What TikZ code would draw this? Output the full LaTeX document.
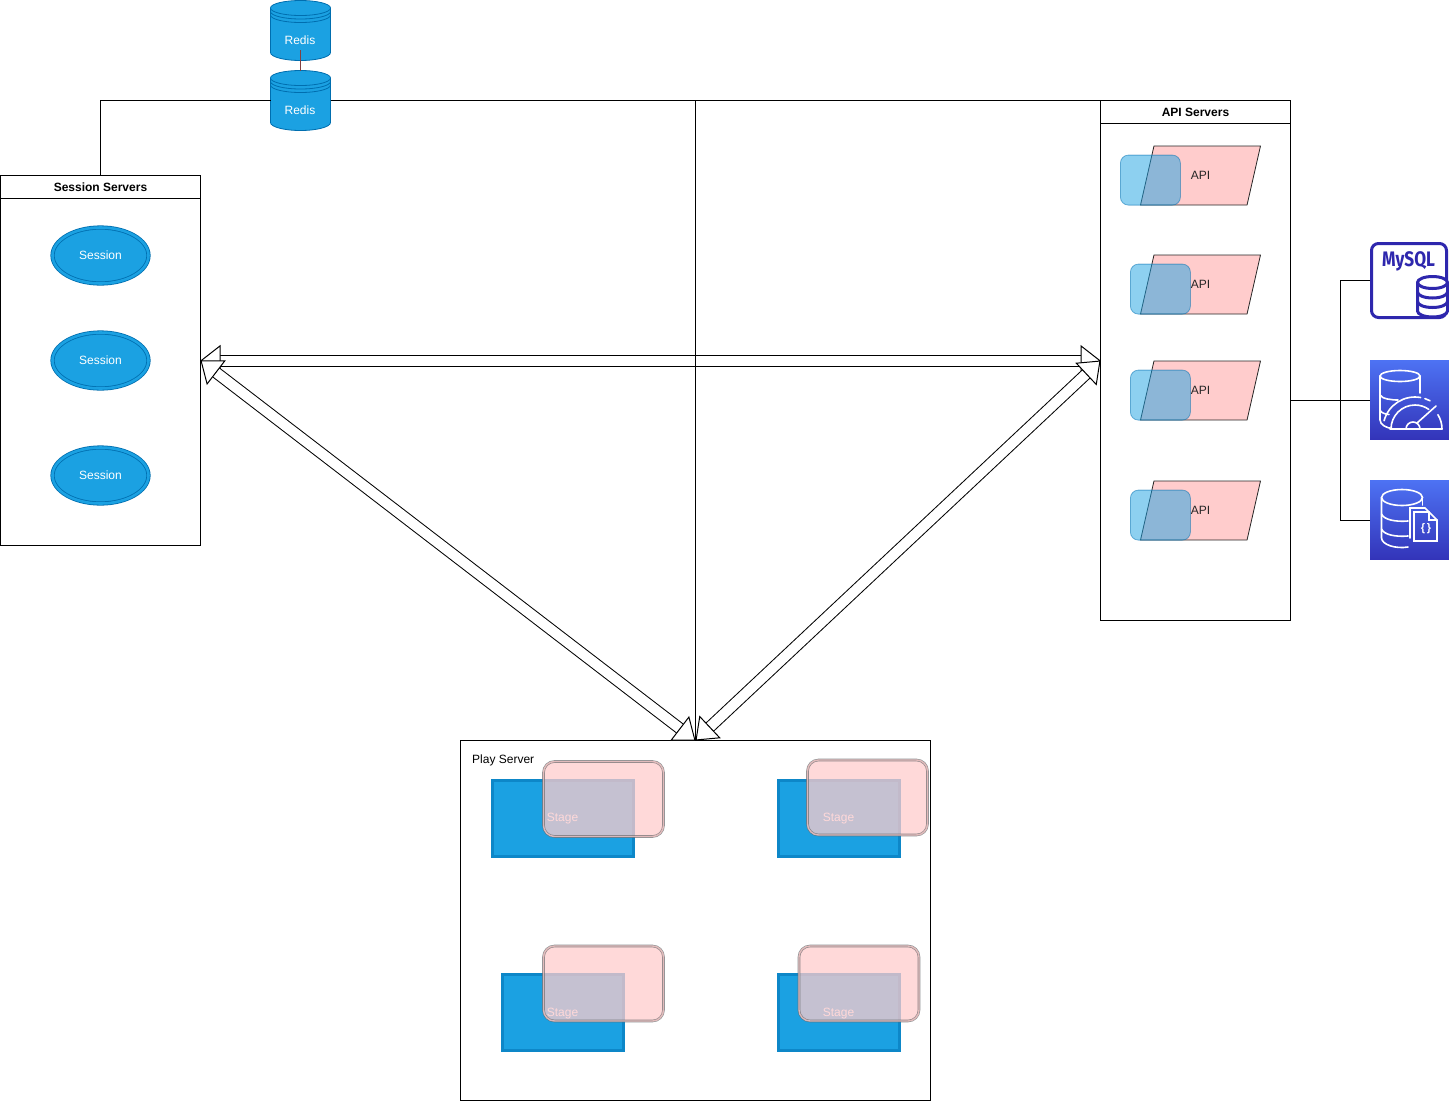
\documentclass[tikz,border=0pt]{standalone}
\usepackage{fontspec}
\setmainfont{Liberation Sans}
\newfontfamily\iconfont{Fira Sans}
\usetikzlibrary{arrows.meta,shapes.geometric,calc}
\definecolor{azure}{HTML}{1BA1E2}
\definecolor{azureline}{HTML}{006EAF}
\definecolor{pinkfill}{HTML}{FFCCCC}
\definecolor{pinkline}{HTML}{36393D}
\definecolor{iconblue}{HTML}{2E27AD}
\definecolor{tiletop}{HTML}{4D72F3}
\definecolor{tilebot}{HTML}{3334B9}
\newcommand{\stagelabel}{\raisebox{0pt}[7pt][0pt]{Stage}}
\tikzset{
  srvbox/.style={draw, line width=.8pt, outer sep=0pt, anchor=north west},
  srvtitle/.style={srvbox, font=\fontsize{12}{14}\selectfont\bfseries, minimum height=23},
  sessionnode/.style={ellipse, draw=azureline, fill=azure, line width=.8pt,
    double=azure, double distance=2.6pt, minimum width=96, minimum height=56,
    text=white, font=\fontsize{12}{14}\selectfont},
  apinode/.style={trapezium, draw=black!85, fill=pinkfill, line width=.8pt,
    trapezium left angle=71.3, trapezium right angle=108.7, trapezium stretches=true,
    inner sep=0pt, outer sep=0pt, minimum width=120, minimum height=59,
    text=black!85, font=\fontsize{12}{14}\selectfont},
  apicard/.style={rectangle, rounded corners=8pt, draw=azureline, fill=azure, opacity=.5,
    line width=.8pt, minimum width=60, minimum height=50, anchor=south west},
  stagenode/.style={rectangle, draw=azure!50!azureline, fill=azure, line width=1pt,
    double=azure!50!azureline, double distance=1pt, minimum height=76,
    text=white, font=\fontsize{12}{14}\selectfont},
  stagecard/.style={rectangle, rounded corners=11pt, draw=pinkline!75, fill=pinkfill, opacity=.75,
    line width=.6pt, double=pinkfill, double distance=1.4pt, minimum width=120, minimum height=75},
  dbbody/.style={fill=azure, draw=azureline, line width=.8pt},
  dbtext/.style={text=white, font=\fontsize{12}{14}\selectfont},
  awstile/.style={rectangle, top color=tiletop, bottom color=tilebot, minimum size=79, inner sep=0pt, outer sep=0pt},
  tileline/.style={draw=white, line width=1.6pt, line cap=round},
  flowarrow/.style={double, double distance=10pt, line width=1pt,
    {Triangle[fill=white, length=20pt, width=31pt, line width=1pt]}-{Triangle[fill=white, length=20pt, width=31pt, line width=1pt]}},
  link/.style={line width=1pt}
}
\begin{document}
\begin{tikzpicture}[x=1pt, y=-1pt]
  \useasboundingbox (0,0) rectangle (1449,1101);

  % server boxes
  \node[srvbox, minimum width=200, minimum height=370] (session) at (.5,175.5) {};
  \node[srvtitle, minimum width=200] (sessionTitle) at (session.north west) {Session Servers};
  \node[srvbox, minimum width=190, minimum height=520] (api) at (1100.5,100.5) {};
  \node[srvtitle, minimum width=190] (apiTitle) at (api.north west) {API Servers};
  \node[srvbox, minimum width=470, minimum height=360] (play) at (460.5,740.5) {};
  \node[anchor=west, inner sep=0pt, font=\fontsize{12}{14}\selectfont] (playTitle) at (472,760.5) {Play Server};

  % redis
  \foreach \nm/\top in {redisA/.5,redisB/70.5} {
    \path[dbbody] (270.5,\top+7.5) -- (270.5,\top+52)
      arc[start angle=180, end angle=360, x radius=30pt, y radius=8pt]
      -- (330.5,\top+7.5)
      arc[start angle=0, end angle=180, x radius=30pt, y radius=7.5pt] -- cycle;
    \draw[azureline, line width=.8pt] (270.5,\top+7.5)
      arc[start angle=180, end angle=360, x radius=30pt, y radius=7.5pt];
    \draw[azureline, line width=.8pt] (270.5,\top+11)
      arc[start angle=180, end angle=360, x radius=30pt, y radius=7.5pt];
    \draw[azureline, line width=.8pt] (270.5,\top+14.5)
      arc[start angle=180, end angle=360, x radius=30pt, y radius=7.5pt];
    \node[minimum width=60, minimum height=60, inner sep=0pt, outer sep=0pt] (\nm) at (300.5,\top+30) {};
    \node[dbtext, inner sep=0pt] (\nm Text) at (300,\top+39.5) {Redis};
  }
  \coordinate (redisLink) at (300.5,50);
  \draw[red!35!black!75, line width=.7pt] (redisLink) -- (redisB.north);

  % session nodes
  \foreach \nm/\py in {sessionA/255,sessionB/360,sessionC/475}
    \node[sessionnode] (\nm) at (100.5,\py+.5) {Session};

  % flow arrows
  \draw[flowarrow] (session.east) -- (api.west);
  \draw[flowarrow] (session.east) -- (play.north);
  \draw[flowarrow] (api.west) -- (play.north);

  % bus
  \draw[link] (session.north) |- (redisB.west);
  \draw[link] (redisB.east) -- (redisB.east -| api.west);
  \draw[link] (redisB.east) -| (play.north);

  % api nodes
  \foreach \nm/\py/\cx in {apiA/146/1120,apiB/255/1130,apiC/361/1130,apiD/481/1130} {
    \node[apinode] (\nm) at (1200.5,\py+29.5) {API};
    \node[apicard] (\nm card) at (\cx,\py+59.5) {};
  }

  % stages
  \node[stagenode, minimum width=141] (stageA) at (562.5,818) {\stagelabel};
  \node[stagecard] (stageAcard) at (603.5,799) {};
  \node[stagenode, minimum width=121] (stageB) at (838.5,818) {\stagelabel};
  \node[stagecard] (stageBcard) at (867.5,797.5) {};
  \node[stagenode, minimum width=121] (stageC) at (562.5,1012.5) {\stagelabel};
  \node[stagecard] (stageCcard) at (603.5,983.5) {};
  \node[stagenode, minimum width=121] (stageD) at (838.5,1012.5) {\stagelabel};
  \node[stagecard] (stageDcard) at (859,983.5) {};

  % mysql icon
  \node[rectangle, rounded corners=7pt, draw=iconblue, line width=3pt, minimum width=75,
    minimum height=74, inner sep=0pt, outer sep=1.5pt] (mysql) at (1409,280.5) {};
  \node[text=iconblue, inner sep=0pt, font=\iconfont\fontsize{21}{24}\selectfont\bfseries] (mysqlText) at (1408.5,261) {\scalebox{.82}[1]{MySQL}};
  \path[fill=white, draw=iconblue, line width=3pt] (1417.5,282.5) -- (1417.5,311)
    arc[start angle=180, end angle=360, x radius=15pt, y radius=6pt] -- (1447.5,282.5)
    arc[start angle=0, end angle=180, x radius=15pt, y radius=6pt] -- cycle;
  \foreach \py in {282.5,292,301.5}
    \draw[iconblue, line width=3pt] (1417.5,\py)
      arc[start angle=180, end angle=360, x radius=15pt, y radius=6pt];

  % performance icon
  \node[awstile] (perfdb) at (1409.5,400) {};
  \draw[tileline] (1400,376) ellipse[x radius=20pt, y radius=5.5pt];
  \draw[tileline] (1380,376) -- (1380,420) .. controls (1380,425) and (1387,428) .. (1392,428.5);
  \draw[tileline] (1380,395) .. controls (1382,399) and (1392,400) .. (1398,400);
  \draw[tileline] (1380,410) .. controls (1381,413) and (1385,414) .. (1389,414.5);
  \draw[tileline] (1420,376) -- (1420,393);
  \draw[tileline] (1390,429) -- (1442,429);
  \draw[tileline] (1415,429) ++(165:32pt) arc[start angle=165, end angle=80, radius=32pt];
  \draw[tileline] (1415,429) ++(72:32pt) arc[start angle=72, end angle=62, radius=32pt];
  \draw[tileline] (1415,429) ++(180:24pt) arc[start angle=180, end angle=55, radius=24pt];
  \draw[tileline] (1415,429) ++(0:27pt) arc[start angle=0, end angle=32, radius=27pt];
  \draw[tileline] (1417,423) -- (1436,406);
  \draw[tileline] (1406,429) arc[start angle=180, end angle=0, radius=7pt];

  % document icon
  \node[awstile] (docdb) at (1409.5,520) {};
  \draw[tileline] (1402,497.5) ellipse[x radius=20.5pt, y radius=8pt];
  \draw[tileline] (1381.5,498) -- (1381.5,538) .. controls (1382,545) and (1396,549) .. (1408,547);
  \draw[tileline] (1381.5,514) .. controls (1384,520) and (1396,522) .. (1408,521);
  \draw[tileline] (1381.5,529) .. controls (1384,535) and (1396,537) .. (1408,536);
  \draw[tileline] (1422.5,498) -- (1422.5,505);
  \draw[tileline] (1410,538) -- (1410,508) -- (1425,508) -- (1429,512);
  \draw[tileline] (1414,512) -- (1429,512) -- (1437,520) -- (1437,541) -- (1414,541) -- cycle;
  \draw[tileline] (1429,512) -- (1429,520) -- (1437,520);
  \node[text=white, inner sep=0pt, font=\fontsize{11}{12}\selectfont\bfseries] (docText) at (1426,529) {\{\,\}};

  % storage links
  \coordinate (storeBus) at (1340.5,400);
  \draw[link] (perfdb.west) -- (api.east |- perfdb.west);
  \draw[link] (mysql.west) -| (storeBus);
  \draw[link] (docdb.west) -| (storeBus);
\end{tikzpicture}
\end{document}
